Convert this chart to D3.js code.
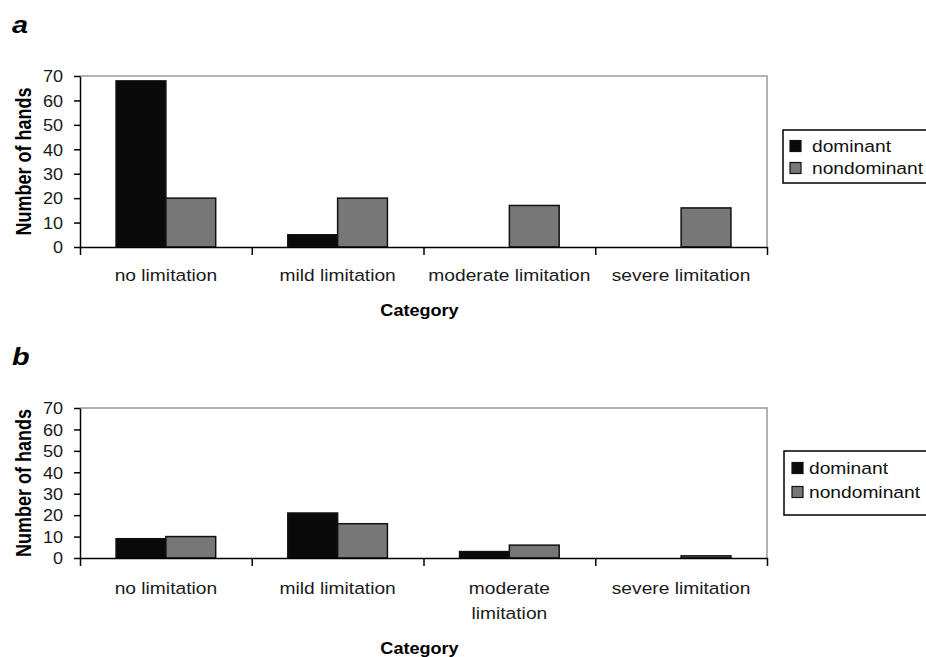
<!doctype html>
<meta charset="utf-8" />
<style>
    body { margin: 0; background: #fff; }
    text { font-family: "Liberation Sans", Arial, sans-serif; }
</style>
<svg></svg>

<script src="https://cdn.jsdelivr.net/npm/d3@7"></script>

<script>
    // data
    var series = ['dominant', 'nondominant'];
    var categories = ['no limitation', 'mild limitation', 'moderate limitation', 'severe limitation'];
    var labelsA = [['no limitation'], ['mild limitation'], ['moderate limitation'], ['severe limitation']];
    var labelsB = [['no limitation'], ['mild limitation'], ['moderate', 'limitation'], ['severe limitation']];
    var dominantA = [68, 5, 0, 0];
    var nondominantA = [20, 20, 17, 16];
    var dominantB = [9, 21, 3, 0];
    var nondominantB = [10, 16, 6, 1];
    var yTicks = [0, 10, 20, 30, 40, 50, 60, 70];

    var colors = { dominant: '#0a0a0a', nondominant: '#777777' };
    var SX = 1.13; // the source picture is stretched sideways

    var svg = d3.select('svg')
        .attr('width', 926)
        .attr('height', 657)

    function stretchedText(g, x, y, str, size, weight, anchor) {
        return g.append('text')
            .attr('transform', 'translate(' + x + ',' + y + ') scale(' + SX + ',1)')
            .attr('text-anchor', anchor || 'start')
            .style('font-size', size + 'px')
            .style('font-weight', weight || 'normal')
            .text(str);
    }

    function drawChart(opt) {
        var left = 80, right = 767;
        var top = opt.top, bottom = opt.bottom;
        var w = right - left, h = bottom - top;

        var g = svg.append('g').attr('transform', 'translate(' + left + ',' + top + ')');

        // panel letter
        svg.append('text')
            .attr('transform', 'translate(12,' + opt.letterY + ') scale(1.2,1)')
            .style('font-size', '24px')
            .style('font-weight', 'bold')
            .style('font-style', 'italic')
            .text(opt.letter);

        var y = d3.scaleLinear().domain([0, 70]).range([h, 0]);
        var x0 = d3.scaleBand().domain(categories).range([0, w])
            .paddingInner(0.42).paddingOuter(0.21);
        var x1 = d3.scaleBand().domain(series).range([0, x0.bandwidth()]);
        var xEdge = d3.scaleLinear().domain([0, categories.length]).range([0, w]);

        // grey frame top and right
        g.append('path')
            .attr('d', d3.line()([[0, 0], [w, 0], [w, h]]))
            .style('fill', 'none')
            .style('stroke', '#999')
            .style('stroke-width', 1.5)

        // bars
        var rows = categories.map(function (c, i) {
            return { cat: c, dominant: opt.dominant[i], nondominant: opt.nondominant[i] };
        });
        var grp = g.selectAll('.grp').data(rows).enter().append('g')
            .attr('transform', function (d) { return 'translate(' + x0(d.cat) + ',0)'; });
        grp.selectAll('rect')
            .data(function (d) {
                return series.map(function (s) { return { key: s, value: d[s] }; })
                    .filter(function (s) { return s.value > 0; });
            })
            .enter().append('rect')
            .attr('x', function (d) { return x1(d.key); })
            .attr('y', function (d) { return y(d.value); })
            .attr('width', x1.bandwidth())
            .attr('height', function (d) { return h - y(d.value); })
            .style('fill', function (d) { return colors[d.key]; })
            .style('stroke', '#111')
            .style('stroke-width', 1.5)

        // y axis
        var ya = g.append('g')
            .call(d3.axisLeft(y).tickValues(yTicks).tickSize(6).tickSizeOuter(0));
        ya.select('.domain').style('stroke', '#000').style('stroke-width', 1.5);
        ya.selectAll('line').style('stroke-width', 1.5);
        ya.selectAll('text')
            .attr('x', null)
            .attr('transform', 'translate(-17,0) scale(' + SX + ',1)')
            .attr('dy', '0.36em')
            .style('font-size', '16px')
            .style('font-family', '"Liberation Sans", Arial, sans-serif')
            .style('fill', '#1a1a1a');

        // x axis, ticks on category edges
        var xa = g.append('g').attr('transform', 'translate(0,' + h + ')')
            .call(d3.axisBottom(xEdge).tickValues(d3.range(categories.length + 1))
                .tickSize(8).tickSizeOuter(0).tickFormat(''));
        xa.select('.domain').style('stroke', '#000').style('stroke-width', 1.5);
        xa.selectAll('line').style('stroke-width', 1.5);

        // category labels
        var maxLines = 1;
        opt.labels.forEach(function (lines, i) {
            maxLines = Math.max(maxLines, lines.length);
            var cx = x0(categories[i]) + x0.bandwidth() / 2;
            lines.forEach(function (ln, j) {
                stretchedText(g, cx, h + opt.labelGap + j * 25, ln, 17, 'normal', 'middle')
                    .style('fill', '#1a1a1a');
            });
        });

        // axis titles
        stretchedText(g, w / 2 - 4, h + opt.labelGap + 35 + (maxLines - 1) * 25, 'Category', 16, 'bold', 'middle');
        svg.append('text')
            .attr('transform', 'translate(31,' + (top + h / 2) + ') scale(1.2,1) rotate(-90)')
            .attr('text-anchor', 'middle')
            .style('font-size', '18px')
            .style('font-weight', 'bold')
            .text('Number of hands');

        // legend
        var lg = svg.append('g').attr('transform', 'translate(' + opt.legend.x + ',' + opt.legend.y + ')');
        lg.append('rect')
            .attr('width', 200).attr('height', opt.legend.h)
            .style('fill', '#fff').style('stroke', '#000').style('stroke-width', 1.5);
        series.forEach(function (s, i) {
            var cy = opt.legend.first + i * opt.legend.step;
            lg.append('rect')
                .attr('x', opt.legend.sw).attr('y', cy - 5.5)
                .attr('width', 11).attr('height', 11)
                .style('fill', colors[s]).style('stroke', '#111').style('stroke-width', 1.2);
            stretchedText(lg, opt.legend.tx, cy + 6, s, 17).style('fill', '#111');
        });
    }

    drawChart({
        letter: 'a', letterY: 33, top: 76, bottom: 247,
        dominant: dominantA, nondominant: nondominantA, labels: labelsA, labelGap: 34,
        legend: { x: 783, y: 130, h: 53, first: 16, step: 22, sw: 7, tx: 29 }
    });
    drawChart({
        letter: 'b', letterY: 365, top: 408, bottom: 558,
        dominant: dominantB, nondominant: nondominantB, labels: labelsB, labelGap: 36,
        legend: { x: 784, y: 451, h: 64, first: 17, step: 24, sw: 8, tx: 25 }
    });
</script>
